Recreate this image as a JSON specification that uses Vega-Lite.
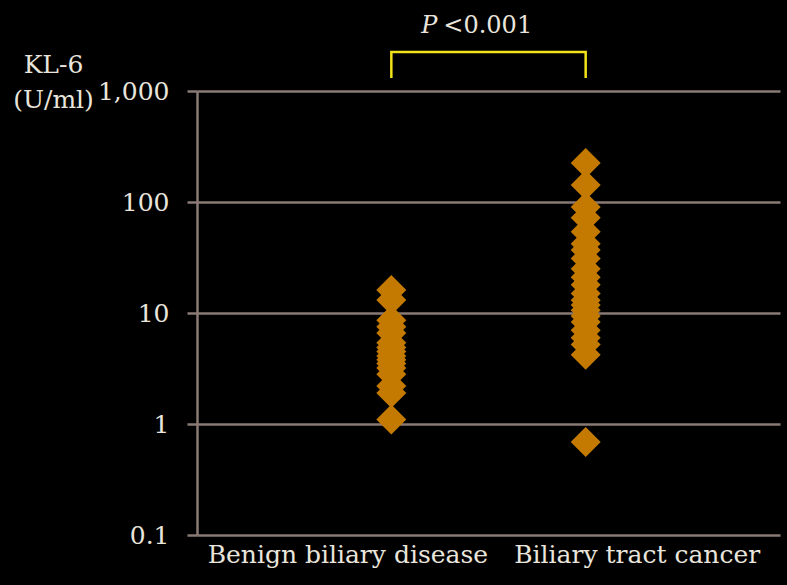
{
  "$schema": "https://vega.github.io/schema/vega-lite/v6.json",
  "width": 583,
  "height": 444,
  "autosize": "none",
  "padding": {"left": 197, "top": 91, "right": 7, "bottom": 50},
  "background": "#000000",
  "config": {"view": {"stroke": null}, "font": "DejaVu Serif"},
  "datasets": {
    "points": [
      {"group": "Benign biliary disease", "kl6": 16.1},
      {"group": "Benign biliary disease", "kl6": 13.1},
      {"group": "Benign biliary disease", "kl6": 8.6},
      {"group": "Benign biliary disease", "kl6": 7.5},
      {"group": "Benign biliary disease", "kl6": 6.6},
      {"group": "Benign biliary disease", "kl6": 5.4},
      {"group": "Benign biliary disease", "kl6": 4.9},
      {"group": "Benign biliary disease", "kl6": 4.5},
      {"group": "Benign biliary disease", "kl6": 4.1},
      {"group": "Benign biliary disease", "kl6": 3.8},
      {"group": "Benign biliary disease", "kl6": 3.5},
      {"group": "Benign biliary disease", "kl6": 3.2},
      {"group": "Benign biliary disease", "kl6": 2.8},
      {"group": "Benign biliary disease", "kl6": 2.2},
      {"group": "Benign biliary disease", "kl6": 1.9},
      {"group": "Benign biliary disease", "kl6": 1.1},
      {"group": "Biliary tract cancer", "kl6": 224},
      {"group": "Biliary tract cancer", "kl6": 142},
      {"group": "Biliary tract cancer", "kl6": 90},
      {"group": "Biliary tract cancer", "kl6": 72},
      {"group": "Biliary tract cancer", "kl6": 54},
      {"group": "Biliary tract cancer", "kl6": 42},
      {"group": "Biliary tract cancer", "kl6": 37},
      {"group": "Biliary tract cancer", "kl6": 31},
      {"group": "Biliary tract cancer", "kl6": 25},
      {"group": "Biliary tract cancer", "kl6": 21},
      {"group": "Biliary tract cancer", "kl6": 18},
      {"group": "Biliary tract cancer", "kl6": 15},
      {"group": "Biliary tract cancer", "kl6": 13},
      {"group": "Biliary tract cancer", "kl6": 11.8},
      {"group": "Biliary tract cancer", "kl6": 10.6},
      {"group": "Biliary tract cancer", "kl6": 9.4},
      {"group": "Biliary tract cancer", "kl6": 8.3},
      {"group": "Biliary tract cancer", "kl6": 7.0},
      {"group": "Biliary tract cancer", "kl6": 6.0},
      {"group": "Biliary tract cancer", "kl6": 5.2},
      {"group": "Biliary tract cancer", "kl6": 4.2},
      {"group": "Biliary tract cancer", "kl6": 0.69}
    ],
    "bracket": [
      {"group": "Benign biliary disease", "kl6": 1310, "o": 1},
      {"group": "Benign biliary disease", "kl6": 2244, "o": 2},
      {"group": "Biliary tract cancer", "kl6": 2244, "o": 3},
      {"group": "Biliary tract cancer", "kl6": 1310, "o": 4}
    ],
    "pLabel": [{"group": "Benign biliary disease", "kl6": 3300, "text": "P"}],
    "pValue": [{"group": "Benign biliary disease", "kl6": 3300, "text": "<0.001"}]
  },
  "encoding": {
    "x": {
      "field": "group",
      "type": "nominal",
      "scale": {"type": "point", "padding": 1, "domain": ["Benign biliary disease", "Biliary tract cancer"]},
      "axis": {
        "title": null,
        "labelAngle": 0,
        "domain": false,
        "ticks": false,
        "grid": false,
        "labelFontSize": 25,
        "labelColor": "#e9e5dc",
        "labelPadding": 7,
        "labelLimit": 0,
        "labelOffset": {"condition": {"test": "datum.value === 'Benign biliary disease'", "value": -44}, "value": 51}
      }
    },
    "y": {
      "field": "kl6",
      "type": "quantitative",
      "scale": {"type": "log", "domain": [0.1, 1000], "nice": false},
      "axis": {
        "values": [0.1, 1, 10, 100, 1000],
        "format": ",~f",
        "title": ["KL-6", "(U/ml)"],
        "titleAngle": 0,
        "titleX": -144,
        "titleY": -39,
        "titleAlign": "center",
        "titleBaseline": "top",
        "titleFontSize": 25,
        "titleFontWeight": "normal",
        "titleColor": "#e9e5dc",
        "titleLineHeight": 35,
        "labelFontSize": 25,
        "labelColor": "#e9e5dc",
        "labelPadding": 18,
        "tickSize": 10,
        "tickColor": "#8a7a74",
        "tickWidth": 2.5,
        "domainColor": "#8a7a74",
        "domainWidth": 2.5,
        "grid": true,
        "gridColor": "#8a7a74",
        "gridWidth": 2.5
      }
    }
  },
  "layer": [
    {
      "data": {"name": "points"},
      "mark": {"type": "point", "shape": "diamond", "filled": true, "size": 900, "color": "#c47a00", "opacity": 1}
    },
    {
      "data": {"name": "bracket"},
      "mark": {"type": "line", "color": "#f2e21a", "strokeWidth": 2.5, "clip": false},
      "encoding": {"order": {"field": "o", "type": "quantitative"}}
    },
    {
      "data": {"name": "pLabel"},
      "mark": {"type": "text", "align": "right", "baseline": "alphabetic", "dx": 46, "fontSize": 24, "fontStyle": "italic", "color": "#e9e5dc"},
      "encoding": {"text": {"field": "text"}}
    },
    {
      "data": {"name": "pValue"},
      "mark": {"type": "text", "align": "left", "baseline": "alphabetic", "dx": 52, "fontSize": 24, "color": "#e9e5dc"},
      "encoding": {"text": {"field": "text"}}
    }
  ]
}
